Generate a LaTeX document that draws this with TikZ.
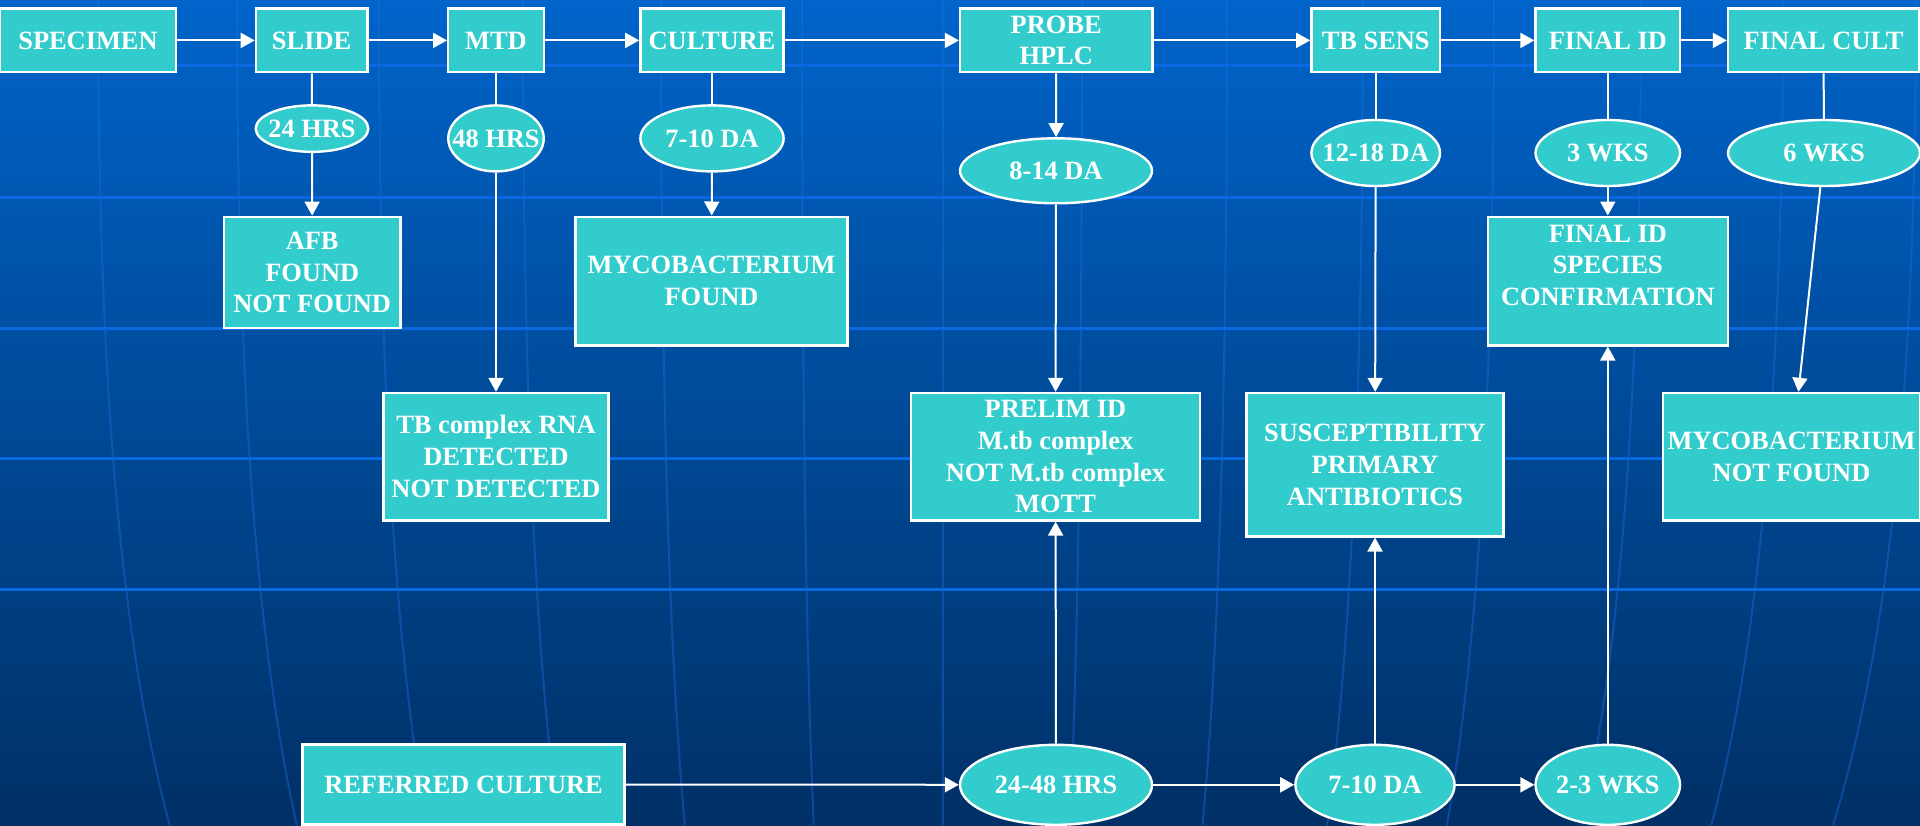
\documentclass[tikz,border=0pt]{standalone}
\usepackage{fontspec}
\setmainfont{Liberation Serif}
\usetikzlibrary{arrows.meta,shapes.geometric}
\definecolor{bgtop}{RGB}{0,100,202}
\definecolor{bgbot}{RGB}{0,48,102}
\definecolor{boxfill}{RGB}{51,204,204}
\definecolor{gridl}{RGB}{10,105,225}
\definecolor{merl}{RGB}{30,110,225}
\newcommand{\etxt}[1]{\makebox[0pt]{#1}}
\begin{document}
\begin{tikzpicture}[x=0.5pt,y=-0.5pt,
  box/.style={draw=white, line width=1.2pt, fill=boxfill, text=white,
    font=\fontsize{13.2}{15.9}\selectfont\bfseries, align=center, inner sep=0pt},
  ell/.style={box, ellipse},
  arr/.style={draw=white, line width=1pt, -{Triangle[length=7pt,width=7.5pt]}},
  ln/.style={draw=white, line width=1pt},
  hgrid/.style={draw=gridl, line width=1.5pt},
  mer/.style={draw=merl, line width=1pt, opacity=0.4}]
% background
\shade[top color=bgtop, bottom color=bgbot] (0,0) rectangle (1920,825);
\useasboundingbox (0,0) rectangle (1920,825);
\foreach \x in {98,237,379,523,661,802,943,1082,1227,1363,1494,1641,1783,1916}{
  \pgfmathsetmacro{\d}{0.085*(940-\x)}
  \pgfmathsetmacro{\xc}{\x+0.35*\d}
  \pgfmathsetmacro{\xe}{\x+\d}
  \draw[mer] (\x,0) .. controls (\x,400) and (\xc,650) .. (\xe,825);
}
\foreach \y in {65,197,328,458,589}{
  \draw[hgrid] (0,\y) -- (1920,\y);
}
% top row
\node[box, minimum width=88pt, minimum height=31.85pt] (spec) at (88,40.4) {SPECIMEN};
\node[box, minimum width=55.7pt, minimum height=31.85pt] (slide) at (311.6,40.4) {SLIDE};
\node[box, minimum width=47.75pt, minimum height=31.85pt] (mtd) at (496,40.4) {MTD};
\node[box, minimum width=71.65pt, minimum height=31.85pt] (cult) at (712,40.4) {CULTURE};
\node[box, minimum width=96.1pt, minimum height=31.85pt] (probe) at (1056.2,40.4) {PROBE\\HPLC};
\node[box, minimum width=64.3pt, minimum height=31.85pt] (tbs) at (1375.7,40.4) {TB SENS};
\node[box, minimum width=72.25pt, minimum height=31.85pt] (fid) at (1607.8,40.4) {FINAL ID};
\node[box, minimum width=95.5pt, minimum height=31.85pt] (fcult) at (1823.5,40.4) {FINAL CULT};
% time ellipses
\node[ell, minimum width=56.3pt, minimum height=23.25pt] (e1) at (312,128.6) {\etxt{24 HRS}};
\node[ell, minimum width=47.75pt, minimum height=33pt] (e2) at (496,138.4) {\etxt{48 HRS}};
\node[ell, minimum width=71.65pt, minimum height=33pt] (e3) at (712,138.4) {\etxt{7-10 DA}};
\node[ell, minimum width=96pt, minimum height=32.5pt] (e4) at (1056,170.8) {\etxt{8-14 DA}};
\node[ell, minimum width=64.3pt, minimum height=33pt] (e5) at (1375.7,153) {\etxt{12-18 DA}};
\node[ell, minimum width=72.25pt, minimum height=33pt] (e6) at (1607.8,153) {\etxt{3 WKS}};
\node[ell, minimum width=96pt, minimum height=33pt] (e7) at (1824,153) {\etxt{6 WKS}};
% result boxes
\node[box, minimum width=88.15pt, minimum height=55.7pt] (afb) at (312.2,272.5) {AFB\\FOUND\\NOT FOUND};
\node[box, minimum width=136pt, minimum height=64.3pt] (mf) at (711.5,281) {MYCOBACTERIUM\\FOUND};
\node[box, minimum width=112.65pt, minimum height=63.7pt] (tbr) at (496,456.7) {TB complex RNA\\DETECTED\\NOT DETECTED};
\node[box, minimum width=144.5pt, minimum height=63.7pt] (prelim) at (1055.5,456.7) {PRELIM ID\\M.tb complex\\NOT M.tb complex\\MOTT};
\node[box, minimum width=128.5pt, minimum height=71.65pt] (sus) at (1375,464.7) {SUSCEPTIBILITY\\PRIMARY\\ANTIBIOTICS};
\node[box, minimum width=120pt, minimum height=64.3pt] (fids) at (1607.8,281) {FINAL ID\\SPECIES\\CONFIRMATION\\~};
\node[box, minimum width=128.5pt, minimum height=63.7pt] (mnf) at (1791.5,456.7) {MYCOBACTERIUM\\NOT FOUND};
% bottom row
\node[box, minimum width=161pt, minimum height=40pt] (ref) at (463.5,784.5) {REFERRED CULTURE};
\node[ell, minimum width=96pt, minimum height=40pt] (b1) at (1056,784.8) {\etxt{24-48 HRS}};
\node[ell, minimum width=79.6pt, minimum height=40pt] (b2) at (1375,784.8) {\etxt{7-10 DA}};
\node[ell, minimum width=72.25pt, minimum height=40pt] (b3) at (1607.8,784.8) {\etxt{2-3 WKS}};
% connectors top row
\draw[arr] (spec) -- (slide);
\draw[arr] (slide) -- (mtd);
\draw[arr] (mtd) -- (cult);
\draw[arr] (cult) -- (probe);
\draw[arr] (probe) -- (tbs);
\draw[arr] (tbs) -- (fid);
\draw[arr] (fid) -- (fcult);
% down
\draw[ln] (slide) -- (e1);
\draw[arr] (e1) -- (afb);
\draw[ln] (mtd) -- (e2);
\draw[arr] (e2) -- (tbr);
\draw[ln] (cult) -- (e3);
\draw[arr] (e3) -- (mf);
\draw[arr] (probe) -- (e4);
\draw[arr] (e4) -- (prelim);
\draw[ln] (tbs) -- (e5);
\draw[arr] (e5) -- (sus);
\draw[ln] (fid) -- (e6);
\draw[arr] (e6) -- (fids);
\draw[ln] (fcult) -- (e7);
\draw[arr] (e7) -- (mnf);
% bottom
\draw[arr] (ref) -- (b1);
\draw[arr] (b1) -- (b2);
\draw[arr] (b2) -- (b3);
\draw[arr] (b1) -- (prelim);
\draw[arr] (b2) -- (sus);
\draw[arr] (b3) -- (fids);
\end{tikzpicture}
\end{document}
